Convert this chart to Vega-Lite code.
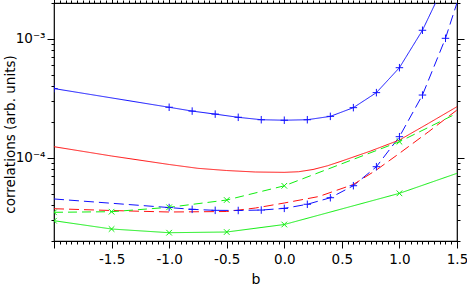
{
  "$schema": "https://vega.github.io/schema/vega-lite/v6.json",
  "width": 403,
  "height": 238,
  "autosize": {"type": "none"},
  "padding": {"left": 54, "top": 3, "right": 10, "bottom": 47},
  "background": "#ffffff",
  "config": {
    "view": {"stroke": "#000000", "strokeWidth": 1.2},
    "font": "DejaVu Sans",
    "axis": {"domain": false, "grid": false, "tickColor": "#000000", "tickWidth": 1, "labelColor": "#000000", "titleColor": "#000000", "labelFont": "DejaVu Sans", "titleFont": "DejaVu Sans"}
  },
  "data": {
    "values": [
      {"s": "bs", "b": -2.0, "v": 3.82e-4, "m": 1},
      {"s": "bs", "b": -1.0, "v": 2.66e-4, "m": 1},
      {"s": "bs", "b": -0.8, "v": 2.47e-4, "m": 1},
      {"s": "bs", "b": -0.6, "v": 2.33e-4, "m": 1},
      {"s": "bs", "b": -0.4, "v": 2.19e-4, "m": 1},
      {"s": "bs", "b": -0.2, "v": 2.09e-4, "m": 1},
      {"s": "bs", "b": 0.0, "v": 2.07e-4, "m": 1},
      {"s": "bs", "b": 0.2, "v": 2.09e-4, "m": 1},
      {"s": "bs", "b": 0.4, "v": 2.23e-4, "m": 1},
      {"s": "bs", "b": 0.6, "v": 2.64e-4, "m": 1},
      {"s": "bs", "b": 0.8, "v": 3.53e-4, "m": 1},
      {"s": "bs", "b": 1.0, "v": 5.72e-4, "m": 1},
      {"s": "bs", "b": 1.2, "v": 1.18e-3, "m": 1},
      {"s": "bs", "b": 1.4, "v": 3.0e-3, "m": 1},
      {"s": "bd", "b": -2.0, "v": 4.51e-5, "m": 0},
      {"s": "bd", "b": -1.0, "v": 3.82e-5, "m": 1},
      {"s": "bd", "b": -0.8, "v": 3.69e-5, "m": 1},
      {"s": "bd", "b": -0.6, "v": 3.62e-5, "m": 1},
      {"s": "bd", "b": -0.4, "v": 3.61e-5, "m": 1},
      {"s": "bd", "b": -0.2, "v": 3.64e-5, "m": 1},
      {"s": "bd", "b": 0.0, "v": 3.76e-5, "m": 1},
      {"s": "bd", "b": 0.2, "v": 4.07e-5, "m": 1},
      {"s": "bd", "b": 0.4, "v": 4.62e-5, "m": 1},
      {"s": "bd", "b": 0.6, "v": 5.83e-5, "m": 1},
      {"s": "bd", "b": 0.8, "v": 8.42e-5, "m": 1},
      {"s": "bd", "b": 1.0, "v": 1.505e-4, "m": 1},
      {"s": "bd", "b": 1.2, "v": 3.37e-4, "m": 1},
      {"s": "bd", "b": 1.4, "v": 1.01e-3, "m": 1},
      {"s": "bd", "b": 1.6, "v": 4.0e-3, "m": 1},
      {"s": "rs", "b": -2.0, "v": 1.24e-4, "m": 0},
      {"s": "rs", "b": -1.5, "v": 1.036e-4, "m": 0},
      {"s": "rs", "b": -1.0, "v": 8.79e-5, "m": 0},
      {"s": "rs", "b": -0.75, "v": 8.16e-5, "m": 0},
      {"s": "rs", "b": -0.5, "v": 7.82e-5, "m": 0},
      {"s": "rs", "b": -0.25, "v": 7.6e-5, "m": 0},
      {"s": "rs", "b": 0.0, "v": 7.55e-5, "m": 0},
      {"s": "rs", "b": 0.125, "v": 7.64e-5, "m": 0},
      {"s": "rs", "b": 0.25, "v": 7.98e-5, "m": 0},
      {"s": "rs", "b": 0.375, "v": 8.57e-5, "m": 0},
      {"s": "rs", "b": 0.5, "v": 9.4e-5, "m": 0},
      {"s": "rs", "b": 0.75, "v": 1.141e-4, "m": 0},
      {"s": "rs", "b": 1.0, "v": 1.411e-4, "m": 0},
      {"s": "rs", "b": 1.25, "v": 1.942e-4, "m": 0},
      {"s": "rs", "b": 1.5, "v": 2.689e-4, "m": 0},
      {"s": "rd", "b": -2.0, "v": 3.735e-5, "m": 0},
      {"s": "rd", "b": -1.5, "v": 3.608e-5, "m": 0},
      {"s": "rd", "b": -1.0, "v": 3.505e-5, "m": 0},
      {"s": "rd", "b": -0.5, "v": 3.539e-5, "m": 0},
      {"s": "rd", "b": -0.25, "v": 3.787e-5, "m": 0},
      {"s": "rd", "b": 0.0, "v": 4.172e-5, "m": 0},
      {"s": "rd", "b": 0.3, "v": 4.73e-5, "m": 0},
      {"s": "rd", "b": 0.6, "v": 5.97e-5, "m": 0},
      {"s": "rd", "b": 0.8, "v": 7.9e-5, "m": 0},
      {"s": "rd", "b": 1.0, "v": 1.091e-4, "m": 0},
      {"s": "rd", "b": 1.25, "v": 1.648e-4, "m": 0},
      {"s": "rd", "b": 1.5, "v": 2.522e-4, "m": 0},
      {"s": "gd", "b": -2.0, "v": 3.485e-5, "m": 1},
      {"s": "gd", "b": -1.5, "v": 3.525e-5, "m": 1},
      {"s": "gd", "b": -1.0, "v": 3.839e-5, "m": 1},
      {"s": "gd", "b": -0.5, "v": 4.42e-5, "m": 1},
      {"s": "gd", "b": 0.0, "v": 5.82e-5, "m": 1},
      {"s": "gd", "b": 1.0, "v": 1.366e-4, "m": 1},
      {"s": "gd", "b": 1.5, "v": 2.366e-4, "m": 0},
      {"s": "gs", "b": -2.0, "v": 2.962e-5, "m": 1},
      {"s": "gs", "b": -1.5, "v": 2.522e-5, "m": 1},
      {"s": "gs", "b": -1.0, "v": 2.348e-5, "m": 1},
      {"s": "gs", "b": -0.5, "v": 2.38e-5, "m": 1},
      {"s": "gs", "b": 0.0, "v": 2.752e-5, "m": 1},
      {"s": "gs", "b": 1.0, "v": 5.03e-5, "m": 1},
      {"s": "gs", "b": 1.5, "v": 7.41e-5, "m": 0}
    ]
  },
  "resolve": {"axis": {"x": "independent", "y": "independent"}},
  "layer": [
    {
      "mark": {"type": "line", "clip": true, "strokeWidth": 1},
      "encoding": {
        "x": {
          "field": "b", "type": "quantitative",
          "scale": {"domain": [-2, 1.5], "nice": false, "zero": false},
          "axis": {
            "orient": "bottom",
            "values": [-2, -1.95, -1.9, -1.85, -1.8, -1.75, -1.7, -1.65, -1.6, -1.55, -1.5, -1.45, -1.4, -1.35, -1.3, -1.25, -1.2, -1.15, -1.1, -1.05, -1, -0.95, -0.9, -0.85, -0.8, -0.75, -0.7, -0.65, -0.6, -0.55, -0.5, -0.45, -0.4, -0.35, -0.3, -0.25, -0.2, -0.15, -0.1, -0.05, 0, 0.05, 0.1, 0.15, 0.2, 0.25, 0.3, 0.35, 0.4, 0.45, 0.5, 0.55, 0.6, 0.65, 0.7, 0.75, 0.8, 0.85, 0.9, 0.95, 1, 1.05, 1.1, 1.15, 1.2, 1.25, 1.3, 1.35, 1.4, 1.45, 1.5],
            "tickSize": {"condition": {"test": "abs(datum.value*2 - round(datum.value*2)) < 0.001", "value": 7}, "value": 3},
            "labelExpr": "abs(datum.value*2 - round(datum.value*2)) < 0.001 && datum.value > -1.9 ? (datum.value < -0.01 ? '-' : '') + format(abs(datum.value), '.1f') : ''",
            "labelOverlap": false, "labelFlush": false, "labelBound": false,
            "labelFontSize": 13.5, "labelPadding": 4,
            "title": "b", "titleFontSize": 14, "titleFontWeight": "normal", "titlePadding": 7
          }
        },
        "y": {
          "field": "v", "type": "quantitative",
          "scale": {"type": "log", "domain": [2e-5, 2e-3], "nice": false},
          "axis": {
            "orient": "left",
            "values": [2e-5, 3e-5, 4e-5, 5e-5, 6e-5, 7e-5, 8e-5, 9e-5, 1e-4, 2e-4, 3e-4, 4e-4, 5e-4, 6e-4, 7e-4, 8e-4, 9e-4, 1e-3, 2e-3],
            "tickSize": {"condition": {"test": "abs(datum.value - 0.001) < 1e-9 || abs(datum.value - 0.0001) < 1e-10", "value": 7}, "value": 3},
            "labelExpr": "abs(datum.value - 0.001) < 1e-9 ? '10⁻³' : (abs(datum.value - 0.0001) < 1e-10 ? '10⁻⁴' : '')",
            "labelOverlap": false, "labelFlush": false, "labelBound": false,
            "labelFontSize": 13.5, "labelPadding": 2,
            "title": "correlations (arb. units)", "titleFontSize": 13.5, "titleFontWeight": "normal", "titlePadding": -2, "titleY": 131
          }
        },
        "color": {
          "field": "s", "type": "nominal", "legend": null,
          "scale": {"domain": ["bs", "bd", "rs", "rd", "gs", "gd"], "range": ["#1010ff", "#1010ff", "#ff1010", "#ff1010", "#10ee10", "#10ee10"]}
        },
        "strokeDash": {
          "field": "s", "type": "nominal", "legend": null,
          "scale": {"domain": ["bs", "bd", "rs", "rd", "gs", "gd"], "range": [[1, 0], [10, 5], [1, 0], [10, 5], [1, 0], [9, 5]]}
        }
      }
    },
    {
      "transform": [{"filter": "datum.m == 1"}],
      "mark": {"type": "point", "clip": true, "filled": false, "strokeWidth": 1, "size": 56, "opacity": 1},
      "encoding": {
        "x": {
          "field": "b", "type": "quantitative",
          "scale": {"domain": [-2, 1.5], "nice": false, "zero": false},
          "axis": {
            "orient": "top",
            "values": [-2, -1.95, -1.9, -1.85, -1.8, -1.75, -1.7, -1.65, -1.6, -1.55, -1.5, -1.45, -1.4, -1.35, -1.3, -1.25, -1.2, -1.15, -1.1, -1.05, -1, -0.95, -0.9, -0.85, -0.8, -0.75, -0.7, -0.65, -0.6, -0.55, -0.5, -0.45, -0.4, -0.35, -0.3, -0.25, -0.2, -0.15, -0.1, -0.05, 0, 0.05, 0.1, 0.15, 0.2, 0.25, 0.3, 0.35, 0.4, 0.45, 0.5, 0.55, 0.6, 0.65, 0.7, 0.75, 0.8, 0.85, 0.9, 0.95, 1, 1.05, 1.1, 1.15, 1.2, 1.25, 1.3, 1.35, 1.4, 1.45, 1.5],
            "tickSize": {"condition": {"test": "abs(datum.value*2 - round(datum.value*2)) < 0.001", "value": 7}, "value": 3},
            "labels": false, "title": null
          }
        },
        "y": {
          "field": "v", "type": "quantitative",
          "scale": {"type": "log", "domain": [2e-5, 2e-3], "nice": false},
          "axis": {
            "orient": "right",
            "values": [2e-5, 3e-5, 4e-5, 5e-5, 6e-5, 7e-5, 8e-5, 9e-5, 1e-4, 2e-4, 3e-4, 4e-4, 5e-4, 6e-4, 7e-4, 8e-4, 9e-4, 1e-3, 2e-3],
            "tickSize": {"condition": {"test": "abs(datum.value - 0.001) < 1e-9 || abs(datum.value - 0.0001) < 1e-10", "value": 7}, "value": 3},
            "labels": false, "title": null
          }
        },
        "color": {
          "field": "s", "type": "nominal", "legend": null,
          "scale": {"domain": ["bs", "bd", "rs", "rd", "gs", "gd"], "range": ["#1010ff", "#1010ff", "#ff1010", "#ff1010", "#10ee10", "#10ee10"]}
        },
        "shape": {
          "field": "s", "type": "nominal", "legend": null,
          "scale": {"domain": ["bs", "bd", "rs", "rd", "gs", "gd"], "range": ["M-1,0L1,0M0,-1L0,1", "M-1,0L1,0M0,-1L0,1", "M-1,0L1,0M0,-1L0,1", "M-1,0L1,0M0,-1L0,1", "M-0.75,-0.75L0.75,0.75M-0.75,0.75L0.75,-0.75", "M-0.75,-0.75L0.75,0.75M-0.75,0.75L0.75,-0.75"]}
        }
      }
    }
  ]
}
